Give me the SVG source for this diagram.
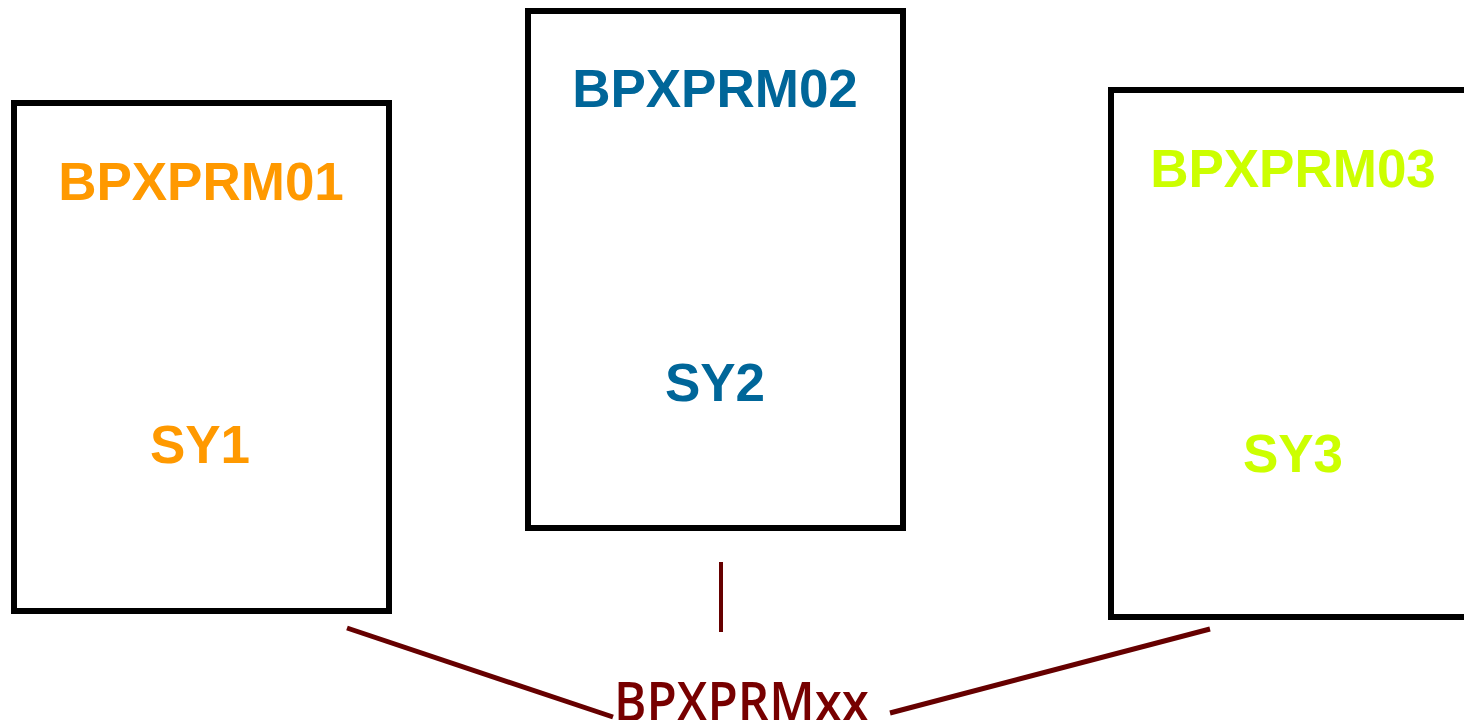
<svg xmlns="http://www.w3.org/2000/svg" width="1464" height="720" viewBox="0 0 1464 720">
<style>
.box{fill:#fff;stroke:#000;stroke-width:6}
.t{font-family:"Liberation Sans",Arial,sans-serif;font-weight:bold;font-size:53px;text-anchor:middle}
.c{stroke:#660000;stroke-width:5;fill:none}
</style>
<rect width="1464" height="720" fill="#fff"/>
<g id="node1">
<rect class="box" x="14" y="103" width="375" height="508"/>
<text class="t" x="201" y="200" fill="#FF9900">BPXPRM01</text>
<text class="t" x="200" y="463" fill="#FF9900">SY1</text>
</g>
<g id="node2">
<rect class="box" x="528" y="11" width="375" height="517"/>
<text class="t" x="715" y="107" fill="#006699">BPXPRM02</text>
<text class="t" x="715" y="401" fill="#006699">SY2</text>
</g>
<g id="node3">
<rect class="box" x="1111" y="90" width="360" height="527"/>
<text class="t" x="1293" y="187" fill="#CCFF00">BPXPRM03</text>
<text class="t" x="1293" y="472" fill="#CCFF00">SY3</text>
</g>
<g id="connectors">
<line class="c" x1="347" y1="628" x2="613" y2="717"/>
<line class="c" x1="721" y1="562" x2="721" y2="632" style="stroke-width:4"/>
<line class="c" x1="1210" y1="629" x2="890" y2="713"/>
</g>
<g id="label">
<text x="614" y="721" font-family="'Open Sans','DejaVu Sans',sans-serif" font-weight="600" font-size="55" fill="#770000" textLength="255" lengthAdjust="spacingAndGlyphs">BPXPRMxx</text>
</g>
</svg>
